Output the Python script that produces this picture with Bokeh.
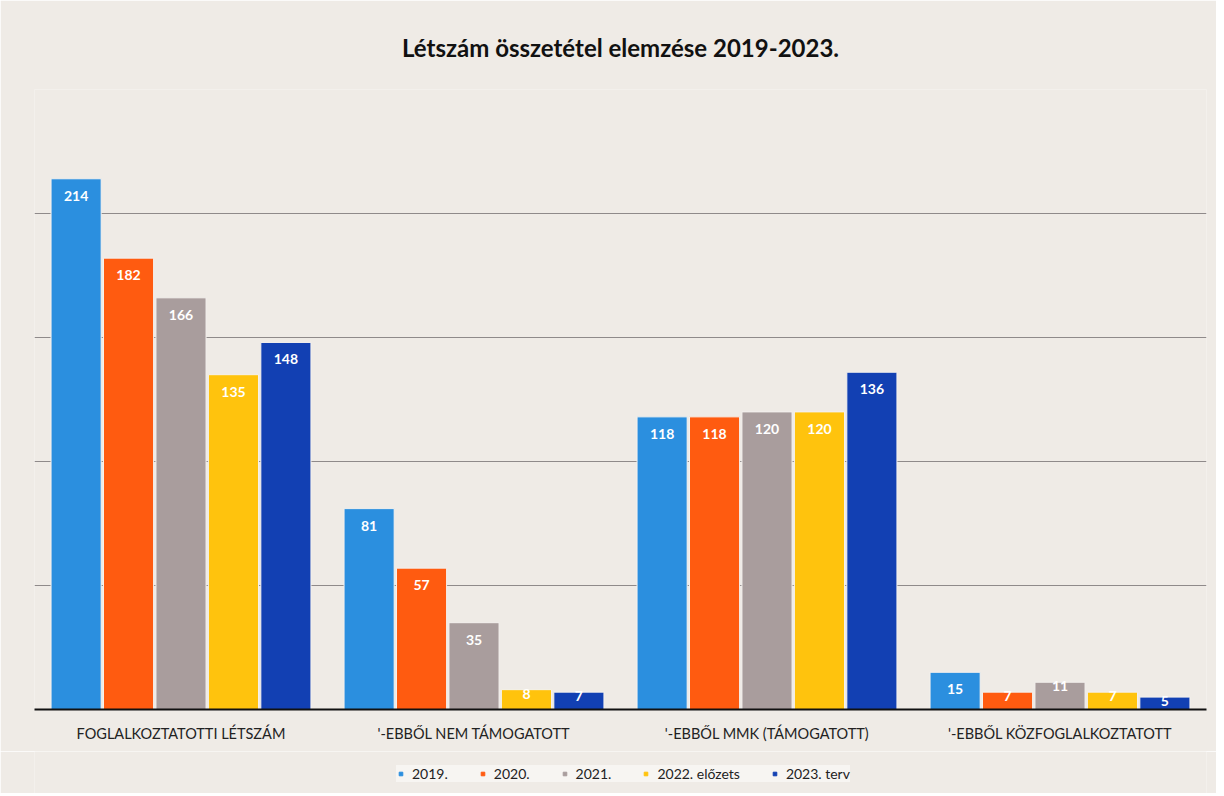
from bokeh.plotting import figure
from bokeh.layouts import column
from bokeh.models import ColumnDataSource, FactorRange, Range1d, Legend, LegendItem, SingleIntervalTicker
from bokeh.transform import dodge
from bokeh.core.properties import value
from bokeh.embed import file_html
from bokeh.resources import INLINE

categories = ["FOGLALKOZTATOTTI LÉTSZÁM", "'-EBBŐL NEM TÁMOGATOTT",
              "'-EBBŐL MMK (TÁMOGATOTT)", "'-EBBŐL KÖZFOGLALKOZTATOTT"]
series_names = ["2019.", "2020.", "2021.", "2022. előzets", "2023. terv"]
v2019 = [214, 81, 118, 15]
v2020 = [182, 57, 118, 7]
v2021 = [166, 35, 120, 11]
v2022 = [135, 8, 120, 7]
v2023 = [148, 7, 136, 5]
series_values = [v2019, v2020, v2021, v2022, v2023]
colors = ["#2b8fdf", "#ff5b10", "#a99d9d", "#ffc30d", "#1240b3"]

BG = "#efebe6"
W = 1216
p = figure(x_range=FactorRange(*categories, range_padding=0), y_range=Range1d(0, 250),
           width=W, height=751, output_backend="svg", toolbar_location=None,
           min_border_left=34, min_border_right=10, min_border_top=89, min_border_bottom=42)
p.background_fill_color = BG
p.border_fill_color = BG
p.outline_line_color = None

p.title.text = "Létszám összetétel elemzése 2019-2023."
p.title.align = "center"
p.title.text_font = "Lato"
p.title.text_font_size = "24px"
p.title.text_font_style = "bold"
p.title.text_color = "#111111"
p.title.standoff = 55

step = 0.179
for i, (name, vals, col) in enumerate(zip(series_names, series_values, colors)):
    off = (i - 2) * step
    offs = [17 if v >= 14 else 4 for v in vals]
    src = ColumnDataSource(dict(cat=categories, val=vals, lbl=[str(v) for v in vals], yo=offs))
    p.vbar(x=dodge("cat", off, range=p.x_range), top="val", width=0.171, source=src,
           fill_color=col, line_color="#f4f1ee", line_width=1)
    p.text(x=dodge("cat", off, range=p.x_range), y="val", text="lbl", source=src,
           text_color="white", text_font=value("Lato"), text_font_size="14px",
           text_font_style="bold", text_align="center", text_baseline="middle",
           y_offset="yo")

p.yaxis.visible = False
p.ygrid.ticker = SingleIntervalTicker(interval=50)
p.ygrid.grid_line_color = "#8f8a8a"
p.ygrid.grid_line_width = 1
p.xgrid.grid_line_color = None

p.xaxis.axis_line_color = "#111111"
p.xaxis.axis_line_width = 2
p.xaxis.major_tick_line_color = None
p.xaxis.minor_tick_line_color = None
p.xaxis.major_label_standoff = 9
p.xaxis.major_label_text_font = "Lato"
p.xaxis.major_label_text_font_size = "14.5px"
p.xaxis.major_label_text_color = "#222222"

# legend strip below the chart (legend swatches come from hidden-range dummy glyphs)
lg = figure(width=W, height=42, output_backend="svg", toolbar_location=None,
            x_range=Range1d(0, 1), y_range=Range1d(0, 1),
            min_border=0)
lg.background_fill_color = BG
lg.border_fill_color = BG
lg.outline_line_color = None
lg.axis.visible = False
lg.grid.visible = False
items = []
for name, col in zip(series_names, colors):
    r = lg.scatter(x=[-5], y=[-5], marker="square", size=9, fill_color=col, line_color=col)
    items.append(LegendItem(label=name, renderers=[r]))
legend = Legend(items=items, orientation="horizontal", location=(362, 11),
                label_text_font="Lato", label_text_font_size="14px", label_text_color="#222222",
                glyph_width=9, glyph_height=9, spacing=30, label_standoff=7,
                label_height=16,
                background_fill_color="#f7f5f2", background_fill_alpha=1,
                border_line_color=None, margin=0, padding=7)
lg.add_layout(legend)

layout = column(p, lg, spacing=0)
open("out.html", "w").write(file_html(layout, INLINE))
